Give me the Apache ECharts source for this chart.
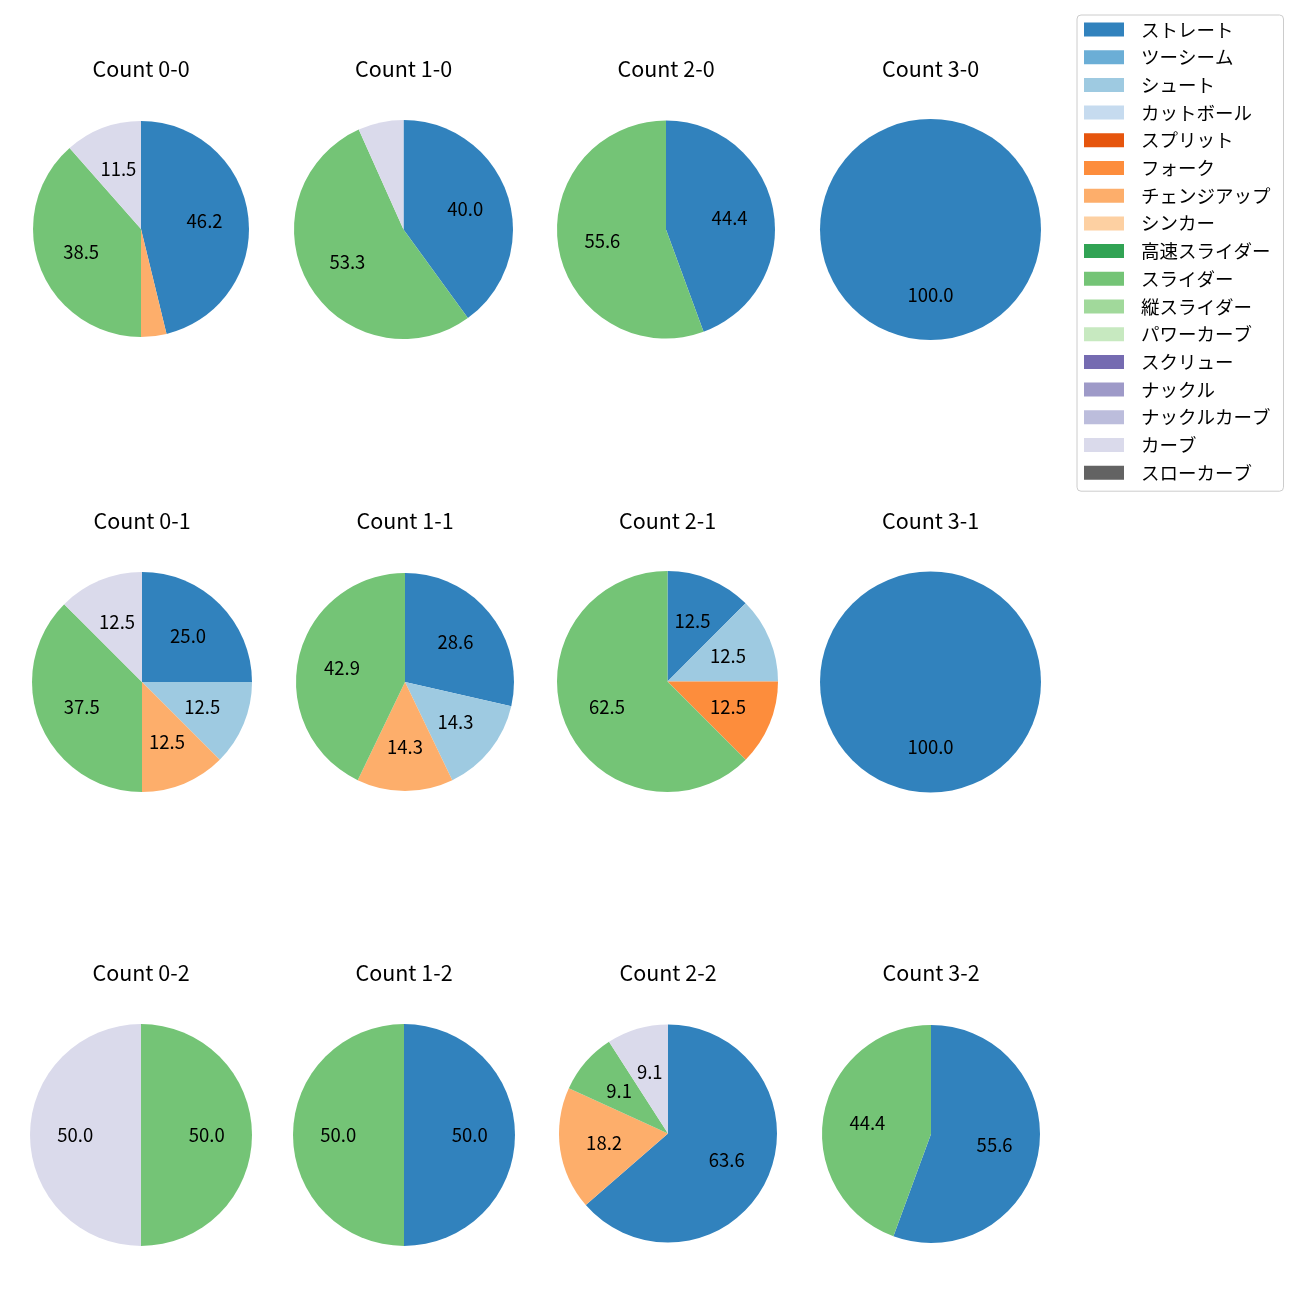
<!DOCTYPE html>
<html><head><meta charset="utf-8">
<script src="https://cdn.jsdelivr.net/npm/echarts@6/dist/echarts.min.js"></script>
<style>html,body{margin:0;padding:0;background:#fff}#c{width:1300px;height:1300px}</style>
</head><body><div id="c"></div>
<script>
const pitchTypes = ['ストレート','ツーシーム','シュート','カットボール','スプリット','フォーク','チェンジアップ','シンカー','高速スライダー','スライダー','縦スライダー','パワーカーブ','スクリュー','ナックル','ナックルカーブ','カーブ','スローカーブ'];
const palette = ['#3182bd','#6baed6','#9ecae1','#c6dbef','#e6550d','#fd8d3c','#fdae6b','#fdd0a2','#31a354','#74c476','#a1d99b','#c7e9c0','#756bb1','#9e9ac8','#bcbddc','#dadaeb','#636363'];
const countLabels = ['Count 0-0','Count 1-0','Count 2-0','Count 3-0','Count 0-1','Count 1-1','Count 2-1','Count 3-1','Count 0-2','Count 1-2','Count 2-2','Count 3-2'];
// percentages per pitch type (same order as pitchTypes)
const count00 = [46.2,0,0,0,0,0,3.8,0,0,38.5,0,0,0,0,0,11.5,0];
const count10 = [40.0,0,0,0,0,0,0,0,0,53.3,0,0,0,0,0,6.7,0];
const count20 = [44.4,0,0,0,0,0,0,0,0,55.6,0,0,0,0,0,0,0];
const count30 = [100.0,0,0,0,0,0,0,0,0,0,0,0,0,0,0,0,0];
const count01 = [25.0,0,12.5,0,0,0,12.5,0,0,37.5,0,0,0,0,0,12.5,0];
const count11 = [28.6,0,14.3,0,0,0,14.3,0,0,42.9,0,0,0,0,0,0,0];
const count21 = [12.5,0,12.5,0,0,12.5,0,0,0,62.5,0,0,0,0,0,0,0];
const count31 = [100.0,0,0,0,0,0,0,0,0,0,0,0,0,0,0,0,0];
const count02 = [0,0,0,0,0,0,0,0,0,50.0,0,0,0,0,0,50.0,0];
const count12 = [50.0,0,0,0,0,0,0,0,0,50.0,0,0,0,0,0,0,0];
const count22 = [63.6,0,0,0,0,0,18.2,0,0,9.1,0,0,0,0,0,9.1,0];
const count32 = [55.6,0,0,0,0,0,0,0,0,44.4,0,0,0,0,0,0,0];
const countData = [count00,count10,count20,count30,count01,count11,count21,count31,count02,count12,count22,count32];

// layout (pixel centers / radii)
const layout = [
  [141,229,108],[403.5,229.5,109.5],[666,229.5,109],[930.5,229.5,110.5],
  [142,682,110],[405,682,109],[667.5,681.5,110.5],[930.5,682,110.5],
  [141,1135,111],[404,1135,111],[668,1133.5,109],[931,1134,109]
];
const titleY = [69,521,973];
const FONT = '"Noto Sans CJK JP", "DejaVu Sans", sans-serif';

const chart = echarts.init(document.getElementById('c'), null, {renderer:'canvas'});
const titles = [], series = [];
countData.forEach((vals, i) => {
  const [cx, cy, r] = layout[i];
  const row = Math.floor(i/4);
  titles.push({text: countLabels[i], left: cx, top: titleY[row] - 13, textAlign: 'center', padding: 0,
    textStyle: {fontFamily: FONT, fontSize: 21.5, fontWeight: 'normal', color: '#000', lineHeight: 26}});
  const total = vals.reduce((a,b)=>a+b,0);
  const data = pitchTypes.map((n, k) => ({name: n, value: vals[k], itemStyle: {color: palette[k]}}));
  series.push({type:'pie', center:[cx,cy], radius:[0,r], startAngle:90, clockwise:true,
    avoidLabelOverlap:false, label:{show:false}, labelLine:{show:false}, data: data,
    emphasis:{disabled:true}, animation:false});
  series.push({type:'pie', center:[cx,cy], radius:[0,r*1.13], startAngle:90, clockwise:true,
    avoidLabelOverlap:false, silent:true, labelLine:{show:false}, animation:false,
    emphasis:{disabled:true},
    itemStyle:{color:'rgba(0,0,0,0)'},
    label:{show:true, position:'inside', color:'#000', fontFamily: FONT, fontSize: 18.5,
      formatter: p => { const pct = p.value/total*100; return pct >= 8 ? pct.toFixed(1) : ''; }},
    data: pitchTypes.map((n,k)=>({name:n, value: vals[k], itemStyle:{color:'rgba(0,0,0,0)'}}))});
});

chart.setOption({
  animation:false,
  title: titles,
  legend: {orient:'vertical', left:1077, top:15, data: pitchTypes,
    itemWidth:40, itemHeight:14, itemGap:8.7, icon:'rect',
    padding:[5,13,9,7], borderColor:'#cccccc', borderWidth:1, borderRadius:4,
    textStyle:{fontFamily: FONT, fontSize:18.5, color:'#000', lineHeight:19, padding:[0,0,0,12]},
    selectedMode:false},
  series: series
});
</script></body></html>
